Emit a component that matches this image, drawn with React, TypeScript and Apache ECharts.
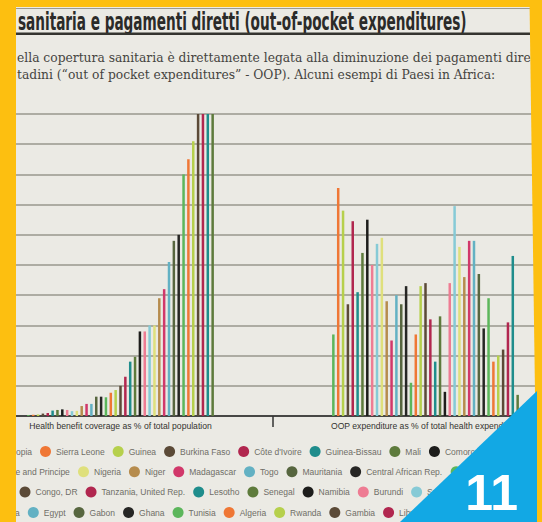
import React, { useEffect, useRef } from "react";
import * as echarts from "echarts";

// ---------- data ----------
const countries = [
  "Ethiopia", "Sierra Leone", "Guinea", "Burkina Faso", "Côte d'Ivoire", "Guinea-Bissau", "Mali", "Comoros", "Uganda",
  "Sao Tome and Principe", "Nigeria", "Niger", "Madagascar", "Togo", "Mauritania", "Central African Rep.", "Mozambique", "Kenya", "Benin",
  "Congo, DR", "Tanzania, United Rep.", "Lesotho", "Senegal", "Namibia", "Burundi", "Sudan", "Morocco", "Cape Verde",
  "Zambia", "Egypt", "Gabon", "Ghana", "Tunisia", "Algeria", "Rwanda", "Gambia", "Libya", "Botswana", "Seychelles",
];

// Health benefit coverage as % of total population
const coverage = [
  0.3, 0.4, 0.5, 0.8, 1.0, 1.8, 2.0, 2.2, 2.0,
  1.6, 1.7, 3.3, 4.0, 4.0, 6.4, 6.4, 6.2, 7.7, 8.6,
  10, 13, 18, 19.6, 28, 28, 30, 30, 39,
  42, 51, 58, 60, 80, 85, 91, 100, 100, 100, 100,
];

// OOP expenditure as % of total health expenditure
const oop = [
  27, 75.5, 68, 37, 64.5, 41, 54, 65, 50,
  57, 59, 38, 25, 40, 37, 43, 11, 27, 43,
  44, 32, 18, 33, 8, 44, 69.5, 56, 46,
  58, 58, 47, 29, 39, 18, 20, 22, 31, 53, 7,
];

const categories = [
  "Health benefit coverage as % of total population",
  "OOP expenditure as % of total health expenditure",
];

const legendRows = [
  countries.slice(0, 9),
  countries.slice(9, 19),
  countries.slice(19, 28),
  countries.slice(28, 39),
];

const palette = [
  "#5cb65b", "#ef7735", "#b6d04c", "#5b4a37", "#b1274f", "#1f8d8c", "#5e7b3c", "#1d1d1b",
  "#ee7c93", "#86cad6", "#dfe07c", "#b68c4d", "#d1386a", "#63b1c3", "#57663f", "#262624",
];

const titleText = "sanitaria e pagamenti diretti (out-of-pocket expenditures)";
const subtitleLines = [
  "ella copertura sanitaria è direttamente legata alla diminuzione dei pagamenti dire",
  "tadini (“out of pocket expenditures” - OOP). Alcuni esempi di Paesi in Africa:",
];
const badgeText = "11";

const yMin = 0;
const yMax = 100;
const yInterval = 10;

// ---------- styles ----------
const SANS = '"Liberation Sans", Arial, sans-serif';
const COND = '"DejaVu Sans Condensed", "Liberation Sans", sans-serif';
const SERIF = '"DejaVu Serif", "Liberation Serif", serif';
const BG = "#ebeae4";
const YELLOW = "#fdbf10";
const BLUE = "#12a8e4";
// the chart canvas starts 32px left of the visible page (the photo is cropped)
const OX = 32;
const CHART_W = 610;

function measure(text: string, font: string): number {
  const ctx = document.createElement("canvas").getContext("2d");
  if (!ctx) return text.length * 5;
  ctx.font = font;
  return ctx.measureText(text).width;
}

export default function App() {
  const ref = useRef<HTMLDivElement>(null);

  useEffect(() => {
    document.body.style.margin = "0";
    document.body.style.overflow = "hidden";
    document.body.style.background = BG;
    if (!ref.current) return;
    const chart = echarts.init(ref.current, undefined, { renderer: "svg" });

    const legendSize = 8.5;
    const legendFont = `${legendSize}px ${SANS}`;
    const itemW = 11;
    const itemGap = 8;
    const itemSpan = (name: string) => itemW + 5 + measure(name, legendFont) + itemGap;
    const legendLefts = [
      45.5 - 5.5 - itemSpan(legendRows[0][0]),
      83.5 - 5.5 - itemSpan(legendRows[1][0]),
      19.5,
      33.3 - 5.5 - itemSpan(legendRows[3][0]),
    ].map((v) => v + OX);
    const legendTops = [446, 466.2, 486.5, 507];

    const titleFont = `bold 25px ${COND}`;
    const titleScale = 449 / measure(titleText, titleFont);
    const subFont = `12px ${SERIF}`;
    const subScale = 514 / measure(subtitleLines[0], subFont);

    const option: any = {
      animation: false,
      backgroundColor: BG,
      grid: { left: 0, right: 0, top: 114, bottom: 106, containLabel: false },
      xAxis: {
        type: "category",
        data: categories,
        axisLine: { lineStyle: { color: "#262626", width: 1.5 } },
        axisTick: { show: true, length: 11, lineStyle: { color: "#333", width: 1.5 } },
        axisLabel: { margin: 5, fontFamily: SANS, fontSize: 8.6, color: "#33332f" },
      },
      yAxis: {
        type: "value",
        min: yMin,
        max: yMax,
        interval: yInterval,
        axisLabel: { show: false },
        axisLine: { show: false },
        axisTick: { show: false },
        splitLine: { lineStyle: { color: "#adaca3", width: 1.8 } },
      },
      legend: legendRows.map((row, i) => ({
        data: row,
        left: legendLefts[i],
        top: legendTops[i],
        orient: "horizontal",
        width: 1400,
        padding: 0,
        itemGap,
        itemWidth: itemW,
        itemHeight: itemW,
        icon: "circle",
        selectedMode: false,
        textStyle: { fontFamily: SANS, fontSize: legendSize, color: "#6f6e67" },
      })),
      series: countries.map((name, i) => ({
        name,
        type: "bar",
        data: [coverage[i], oop[i]],
        barWidth: 2.5,
        barGap: "94%",
        silent: true,
        itemStyle: { color: palette[i % palette.length] },
      })),
      graphic: {
        elements: [
          { type: "line", z: 100, shape: { x1: 16 + OX, y1: 8.5, x2: 531 + OX, y2: 8.5 }, style: { stroke: "#9b9a92", lineWidth: 1 } },
          {
            type: "text", z: 100, x: 18 + OX, y: 21.5, scaleX: titleScale, scaleY: 1,
            style: { text: titleText, fontFamily: COND, fontWeight: "bold", fontSize: 25, fill: "#2b2b29", verticalAlign: "middle" },
          },
          { type: "line", z: 100, shape: { x1: 16 + OX, y1: 33.8, x2: 531 + OX, y2: 33.8 }, style: { stroke: "#34342f", lineWidth: 2.4 } },
          {
            type: "text", z: 100, x: 17 + OX, y: 58.5, scaleX: subScale, scaleY: 1,
            style: { text: subtitleLines[0], fontFamily: SERIF, fontSize: 12, fill: "#45443f", verticalAlign: "middle" },
          },
          {
            type: "text", z: 100, x: 17 + OX, y: 75.5, scaleX: subScale, scaleY: 1,
            style: { text: subtitleLines[1], fontFamily: SERIF, fontSize: 12, fill: "#45443f", verticalAlign: "middle" },
          },
          { type: "rect", z: 200, shape: { x: 0, y: 0, width: 16 + OX, height: 522 }, style: { fill: YELLOW } },
          { type: "rect", z: 200, shape: { x: 0, y: 0, width: CHART_W, height: 7 }, style: { fill: YELLOW } },
          { type: "polygon", z: 200, shape: { points: [[529.5 + OX, 0], [CHART_W, 0], [CHART_W, 522], [536.8 + OX, 522]] }, style: { fill: YELLOW } },
          { type: "polygon", z: 210, shape: { points: [[400 + OX, 522], [537 + OX, 522], [537 + OX, 391]] }, style: { fill: BLUE } },
          {
            type: "text", z: 220, x: 518 + OX, y: 493,
            style: { text: badgeText, fontFamily: SANS, fontWeight: "bold", fontSize: 50, fill: "#ffffff", align: "right", verticalAlign: "middle" },
          },
        ],
      },
    };

    chart.setOption(option);
    return () => chart.dispose();
  }, []);

  return (
    <div
      ref={ref}
      style={{ position: "fixed", left: -OX, top: 0, width: CHART_W, height: 522, background: BG }}
    />
  );
}
